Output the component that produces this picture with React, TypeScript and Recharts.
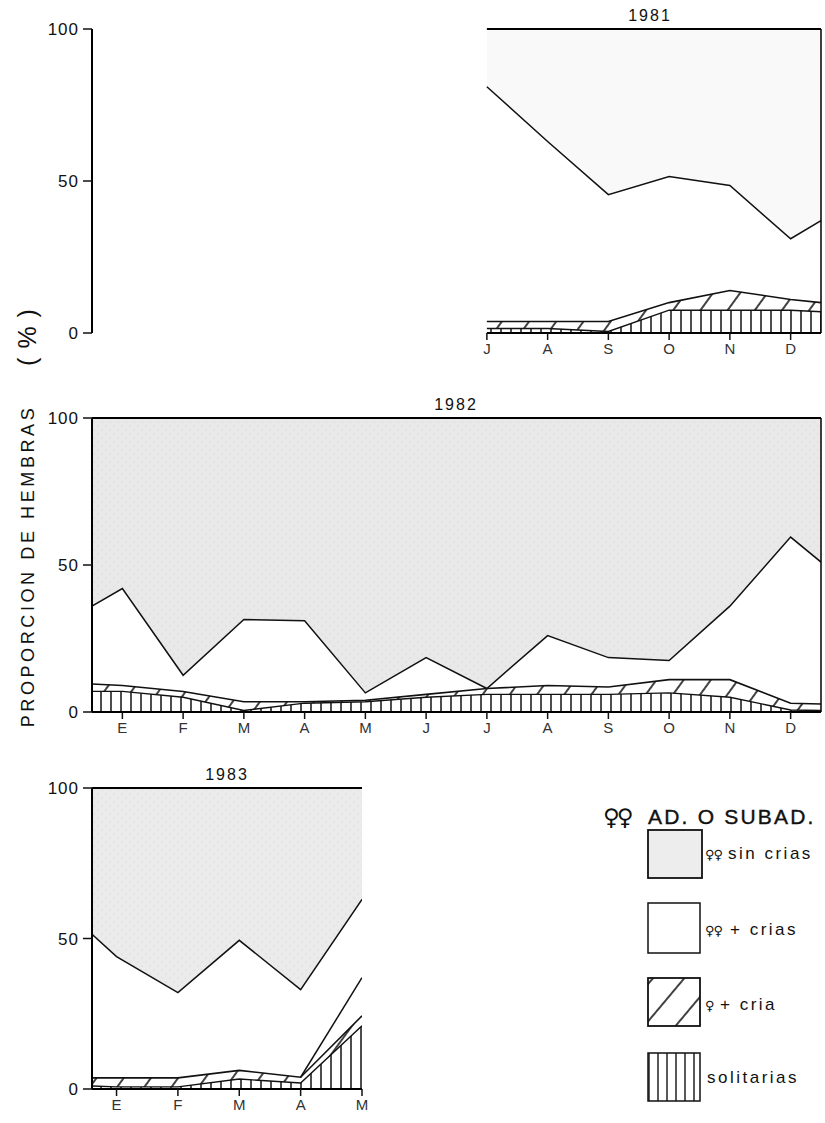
import React from "react";
import { ComposedChart, Area, Line, XAxis, YAxis, ReferenceLine } from "recharts";

const FONT = "'Liberation Sans', Arial, sans-serif";

// 1981 (julio - diciembre)
const MONTHS_1981 = [7, 8, 9, 10, 11, 12, 12.5];
const CRIAS_TOP_1981 = [81, 63, 45.5, 51.5, 48.5, 31, 37];
const CRIA_TOP_1981 = [3.8, 3.8, 3.8, 10, 14, 11, 10];
const SOLITARIAS_1981 = [1.5, 1.5, 0.5, 7.5, 7.5, 7.5, 7];

// 1982 (enero - diciembre)
const MONTHS_1982 = [0.5, 1, 2, 3, 4, 5, 6, 7, 8, 9, 10, 11, 12, 12.5];
const CRIAS_TOP_1982 = [36, 42, 12.5, 31.5, 31, 6.5, 18.5, 8, 26, 18.5, 17.5, 36, 59.5, 51];
const CRIA_TOP_1982 = [9.5, 9, 7, 3.5, 3.5, 4, 6, 8, 9, 8.5, 11, 11, 3, 2.7];
const SOLITARIAS_1982 = [7, 7, 5, 0.5, 3, 3.5, 5, 6, 6, 6, 6.5, 5, 0.7, 0.5];

// 1983 (enero - mayo)
const MONTHS_1983 = [0.6, 1, 2, 3, 4, 5];
const CRIAS_TOP_1983 = [51.4, 44, 32, 49.4, 33, 63];
const CRIA_TOP_1983 = [3.7, 3.7, 3.7, 6.2, 3.9, 24.3];
const SOLITARIAS_1983 = [1, 0.7, 0.7, 3.3, 2, 21];
const EXTRA_1983 = [null, null, null, null, 3.9, 37];

const TICKS_JUL_DIC = [7, 8, 9, 10, 11, 12];
const NAMES_JUL_DIC = ["J", "A", "S", "O", "N", "D"];
const TICKS_ENE_DIC = [1, 2, 3, 4, 5, 6, 7, 8, 9, 10, 11, 12];
const NAMES_ENE_DIC = ["E", "F", "M", "A", "M", "J", "J", "A", "S", "O", "N", "D"];
const TICKS_ENE_MAY = [1, 2, 3, 4, 5];
const NAMES_ENE_MAY = ["E", "F", "M", "A", "M"];

type Row = { m: number; crias: number; cria: number; sol: number; extra?: number | null };

function buildRows(months: number[], crias: number[], cria: number[], sol: number[], extra?: (number | null)[]): Row[] {
  return months.map((m, i) => ({ m, crias: crias[i], cria: cria[i], sol: sol[i], extra: extra ? extra[i] : null }));
}

type PanelProps = {
  id: string;
  title: string;
  titleX: number;
  top: number;
  plotTop: number;
  plotHeight: number;
  width: number;
  right: number;
  rows: Row[];
  domain: [number, number];
  ticks: number[];
  names: string[];
  grey: string;
  dots: boolean;
  floor: boolean;
  edge?: number;
  segment?: [number, number];
  extra?: boolean;
};

function Panel(p: PanelProps) {
  const height = p.plotTop + p.plotHeight + 30;
  return (
    <div style={{ position: "absolute", left: 0, top: p.top, width: p.width, height }}>
      <div
        style={{
          position: "absolute",
          left: p.titleX - 50,
          width: 100,
          top: p.plotTop - 22,
          textAlign: "center",
          fontFamily: FONT,
          fontSize: 16,
          letterSpacing: 2,
          color: "#111",
        }}
      >
        {p.title}
      </div>
      <ComposedChart width={p.width} height={height} data={p.rows} margin={{ top: p.plotTop, right: p.right, bottom: 0, left: 0 }}>
        <defs>
          <pattern id={`${p.id}-v`} patternUnits="userSpaceOnUse" width="10" height="10">
            <rect width="10" height="10" fill="#fff" />
            <line x1="1" y1="0" x2="1" y2="10" stroke="#111" strokeWidth="1.5" />
          </pattern>
          <pattern id={`${p.id}-d`} patternUnits="userSpaceOnUse" width="22" height="10" patternTransform="rotate(36)">
            <rect width="22" height="10" fill="#fff" />
            <line x1="1" y1="0" x2="1" y2="10" stroke="#111" strokeWidth="1.6" />
          </pattern>
          <pattern id={`${p.id}-g`} patternUnits="userSpaceOnUse" width="8" height="8">
            <rect width="8" height="8" fill={p.grey} />
            {p.dots && <circle cx="2" cy="2" r="1" fill="#000" fillOpacity="0.04" />}
            {p.dots && <circle cx="6" cy="6" r="1" fill="#000" fillOpacity="0.04" />}
          </pattern>
        </defs>
        <XAxis
          dataKey="m"
          type="number"
          domain={p.domain}
          ticks={p.ticks}
          interval={0}
          allowDataOverflow
          tickFormatter={(v: number) => p.names[p.ticks.indexOf(v)] ?? ""}
          height={30}
          tickSize={7}
          tickMargin={3}
          axisLine={p.floor ? { stroke: "#000", strokeWidth: 2 } : false}
          tickLine={{ stroke: "#111", strokeWidth: 1.5 }}
          tick={{ fill: "#333", fontSize: 15, fontFamily: FONT }}
        />
        <YAxis
          type="number"
          domain={[0, 100]}
          ticks={[0, 50, 100]}
          interval={0}
          width={92}
          tickSize={9}
          tickMargin={4}
          axisLine={{ stroke: "#000", strokeWidth: 2 }}
          tickLine={{ stroke: "#111", strokeWidth: 1.5 }}
          tick={{ fill: "#111", fontSize: 17, fontFamily: FONT, letterSpacing: 1 }}
        />
        <Area type="linear" dataKey={() => 100} fill={`url(#${p.id}-g)`} fillOpacity={1} stroke="#000" strokeWidth={2} dot={false} activeDot={false} isAnimationActive={false} />
        <Area type="linear" dataKey="crias" fill="#fff" fillOpacity={1} stroke="#111" strokeWidth={1.5} dot={false} activeDot={false} isAnimationActive={false} />
        <Area type="linear" dataKey="cria" fill={`url(#${p.id}-d)`} fillOpacity={1} stroke="#111" strokeWidth={1.6} dot={false} activeDot={false} isAnimationActive={false} />
        <Area type="linear" dataKey="sol" fill={`url(#${p.id}-v)`} fillOpacity={1} stroke="#111" strokeWidth={1.4} dot={false} activeDot={false} isAnimationActive={false} />
        {p.extra && (
          <Line type="linear" dataKey="extra" stroke="#111" strokeWidth={1.5} dot={false} activeDot={false} connectNulls={false} isAnimationActive={false} />
        )}
        {p.segment && (
          <ReferenceLine segment={[{ x: p.segment[0], y: 0 }, { x: p.segment[1], y: 0 }]} stroke="#000" strokeWidth={2} />
        )}
        {p.edge !== undefined && <ReferenceLine x={p.edge} stroke="#000" strokeWidth={1.5} />}
      </ComposedChart>
    </div>
  );
}

function Legend() {
  const label = { fontFamily: FONT, fontSize: 17, letterSpacing: 2.5, fill: "#111" } as const;
  const sign = { fontFamily: "'DejaVu Sans', sans-serif", fontSize: 13, fill: "#111" } as const;
  return (
    <svg width={825} height={1123} style={{ position: "absolute", left: 0, top: 0, pointerEvents: "none" }}>
      <defs>
        <pattern id="lg-v" patternUnits="userSpaceOnUse" width="9" height="10">
          <rect width="9" height="10" fill="#fff" />
          <line x1="1" y1="0" x2="1" y2="10" stroke="#111" strokeWidth="1.4" />
        </pattern>
        <pattern id="lg-d" patternUnits="userSpaceOnUse" width="24" height="10" patternTransform="rotate(40)">
          <rect width="24" height="10" fill="#fff" />
          <line x1="1" y1="0" x2="1" y2="10" stroke="#111" strokeWidth="1.6" />
        </pattern>
      </defs>

      {/* eje vertical */}
      <text
        transform="translate(34, 566) rotate(-90)"
        textAnchor="middle"
        fontFamily={FONT}
        fontSize={18}
        letterSpacing={3.6}
        fill="#111"
      >
        PROPORCION DE HEMBRAS
      </text>
      <text
        transform="translate(36, 333) rotate(-90)"
        textAnchor="middle"
        fontFamily={FONT}
        fontSize={25}
        letterSpacing={9}
        fill="#111"
      >
        (%)
      </text>

      {/* leyenda */}
      <text x={603} y={825} fontFamily="'DejaVu Sans', sans-serif" fontSize={23} letterSpacing={-3} fill="#111">♀♀</text>
      <text x={648} y={824} fontFamily={FONT} fontSize={21} letterSpacing={2.2} fill="#111" stroke="#111" strokeWidth={0.4}>AD. O SUBAD.</text>

      <rect x={648} y={830} width={54} height={48} fill="#ededed" stroke="#111" strokeWidth={1.8} />
      <text x={705} y={859} letterSpacing={-1} style={sign}>♀♀</text>
      <text x={728} y={859} {...label}>sin crias</text>

      <rect x={648} y={903} width={52} height={50} fill="#fff" stroke="#111" strokeWidth={1.5} />
      <text x={705} y={935} letterSpacing={-1} style={sign}>♀♀</text>
      <text x={730} y={935} {...label}>+ crias</text>

      <rect x={648} y={978} width={52} height={48} fill="url(#lg-d)" stroke="#111" strokeWidth={1.8} />
      <text x={705} y={1010} style={sign}>♀</text>
      <text x={720} y={1010} {...label}>+ cria</text>

      <rect x={648} y={1053} width={52} height={48} fill="url(#lg-v)" stroke="#111" strokeWidth={1.5} />
      <text x={707} y={1083} {...label}>solitarias</text>
    </svg>
  );
}

export default function App() {
  const rows1981 = buildRows(MONTHS_1981, CRIAS_TOP_1981, CRIA_TOP_1981, SOLITARIAS_1981);
  const rows1982 = buildRows(MONTHS_1982, CRIAS_TOP_1982, CRIA_TOP_1982, SOLITARIAS_1982);
  const rows1983 = buildRows(MONTHS_1983, CRIAS_TOP_1983, CRIA_TOP_1983, SOLITARIAS_1983, EXTRA_1983);
  return (
    <div style={{ position: "absolute", left: 0, top: 0, width: 825, height: 1123, background: "#fff", overflow: "hidden" }}>
      <Panel
        id="p81"
        title="1981"
        titleX={650}
        top={0}
        plotTop={29}
        plotHeight={304}
        width={825}
        right={4}
        rows={rows1981}
        domain={[0.5, 12.5]}
        ticks={TICKS_JUL_DIC}
        names={NAMES_JUL_DIC}
        grey="#f9f9f9"
        dots={false}
        floor={false}
        segment={[7, 12.5]}
        edge={12.5}
      />
      <Panel
        id="p82"
        title="1982"
        titleX={456}
        top={384}
        plotTop={34}
        plotHeight={294}
        width={825}
        right={4}
        rows={rows1982}
        domain={[0.5, 12.5]}
        ticks={TICKS_ENE_DIC}
        names={NAMES_ENE_DIC}
        grey="#e9e9e9"
        dots={true}
        floor={true}
        edge={12.5}
      />
      <Panel
        id="p83"
        title="1983"
        titleX={227}
        top={760}
        plotTop={28}
        plotHeight={301}
        width={370}
        right={8}
        rows={rows1983}
        domain={[0.6, 5]}
        ticks={TICKS_ENE_MAY}
        names={NAMES_ENE_MAY}
        grey="#ebebeb"
        dots={true}
        floor={true}
        extra
      />
      <Legend />
    </div>
  );
}
